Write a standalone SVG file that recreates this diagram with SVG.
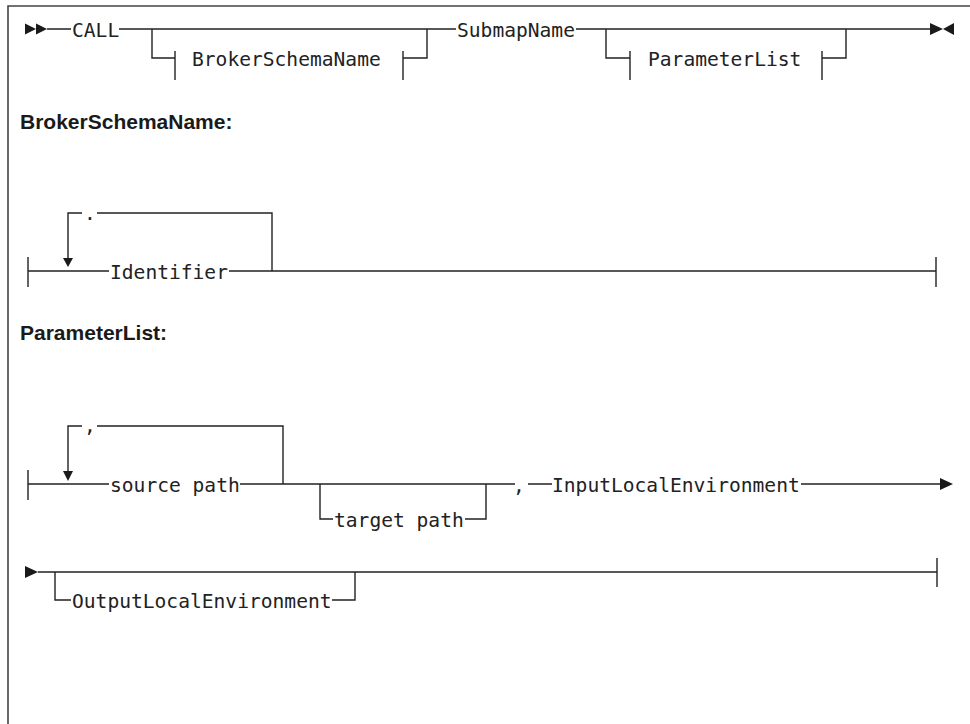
<svg xmlns="http://www.w3.org/2000/svg" width="970" height="724" viewBox="0 0 970 724">
<style>
.ln{fill:none;stroke:#222;stroke-width:1.4}
.fr{fill:none;stroke:#444;stroke-width:1.6}
.ah{fill:#1a1a1a;stroke:none}
.t{font-family:"DejaVu Sans Mono","Liberation Mono",monospace;font-size:19.6px;fill:#222}
.h{font-family:"Liberation Sans",Arial,sans-serif;font-size:21px;font-weight:bold;fill:#1a1a1a}
</style>
<rect width="970" height="724" fill="#fff"/>
<path class="fr" d="M8,724 V6 H970"/>
<g id="connectors">
<!-- Row 1 -->
<path class="ln" d="M47,29 H71 M119,29 H456 M576,29 H930"/>
<path class="ln" d="M152,29 V58 H175 M175,51 V80"/>
<path class="ln" d="M403,51 V80 M403,58 H427 V29"/>
<path class="ln" d="M606,29 V58 H630 M630,51 V80"/>
<path class="ln" d="M822,51 V80 M822,58 H846 V29"/>
<polygon class="ah" points="25,23.5 36,29 25,34.5"/>
<polygon class="ah" points="36,23.5 47,29 36,34.5"/>
<polygon class="ah" points="930,23 943,29 930,35"/>
<polygon class="ah" points="954,23 943,29 954,35"/>
<!-- Row 2 -->
<path class="ln" d="M28,257 V287 M28,271 H109 M229,271 H936 M936,257 V287"/>
<path class="ln" d="M272,271 V213 H97 M82,213 H68 V259"/>
<polygon class="ah" points="63,258 73,258 68,267"/>
<!-- Row 3 -->
<path class="ln" d="M28,470 V500 M28,484 H109 M240,484 H515 M528,484 H552 M801,484 H941"/>
<path class="ln" d="M283,484 V426 H97 M82,426 H68 V472"/>
<polygon class="ah" points="63,471 73,471 68,481"/>
<path class="ln" d="M320,484 V519 H333 M465,519 H486 V484"/>
<polygon class="ah" points="940,478 953,484 940,490"/>
<!-- Row 4 -->
<polygon class="ah" points="25,566 38,572 25,578"/>
<path class="ln" d="M38,572 H937 M937,558 V587"/>
<path class="ln" d="M55,572 V600 H71 M332,600 H355 V572"/>
</g>
<g id="call"><text class="t" x="72" y="36.5">CALL</text></g>
<g id="brokerSchemaNameRef"><text class="t" x="192" y="65.5">BrokerSchemaName</text></g>
<g id="submapName"><text class="t" x="457" y="36.5">SubmapName</text></g>
<g id="parameterListRef"><text class="t" x="648" y="65.5">ParameterList</text></g>
<g id="headingBroker"><text class="h" x="20" y="129">BrokerSchemaName:</text></g>
<g id="identifier"><text class="t" x="110" y="278.5">Identifier</text></g>
<g id="dotSep"><text class="t" x="84" y="220">.</text></g>
<g id="headingParam"><text class="h" x="20" y="340">ParameterList:</text></g>
<g id="commaSep"><text class="t" x="84" y="432">,</text></g>
<g id="sourcePath"><text class="t" x="110" y="491.5">source path</text></g>
<g id="targetPath"><text class="t" x="334" y="526.5">target path</text></g>
<g id="comma2"><text class="t" x="513" y="491.5">,</text></g>
<g id="inputLocalEnvironment"><text class="t" x="552" y="491.5">InputLocalEnvironment</text></g>
<g id="outputLocalEnvironment"><text class="t" x="72" y="607.5">OutputLocalEnvironment</text></g>
</svg>
